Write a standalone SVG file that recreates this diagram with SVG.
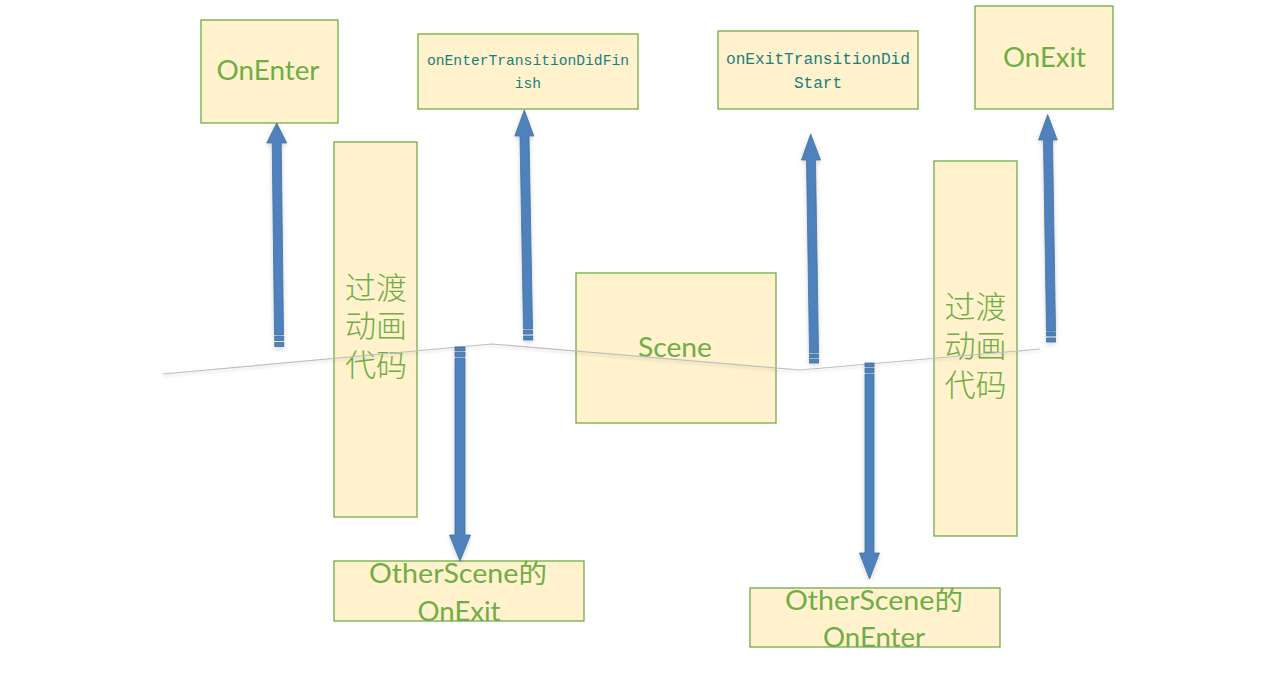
<svg xmlns="http://www.w3.org/2000/svg" width="1280" height="689" viewBox="0 0 1280 689">
<style>
.box{fill:#FFF2CC;stroke:#70AD47;stroke-width:1.3}
.lbl{font-family:Lato,"Noto Sans","Noto Sans CJK SC",sans-serif;font-size:26px;fill:#70AD47;text-anchor:middle}
.cjk{font-family:"Noto Sans CJK SC",sans-serif;font-size:31px;fill:#70AD47;text-anchor:middle;font-weight:300}
.mono{font-family:"Liberation Mono","DejaVu Sans Mono",monospace;fill:#17807E;text-anchor:middle}
.arr{fill:#4F81BD;stroke:#41719C;stroke-width:0.8;filter:url(#glow)}
.ln{fill:none;stroke:#BFBFBF;stroke-width:1.2;filter:url(#lglow)}
</style>
<defs>
<filter id="glow" x="-50%" y="-10%" width="200%" height="120%">
<feGaussianBlur in="SourceAlpha" stdDeviation="2.5"/>
<feOffset dx="0" dy="1.5"/>
<feComponentTransfer><feFuncA type="linear" slope="0.18"/></feComponentTransfer>
<feMerge><feMergeNode/><feMergeNode in="SourceGraphic"/></feMerge>
</filter>
<filter id="lglow" x="-5%" y="-50%" width="110%" height="200%">
<feGaussianBlur in="SourceAlpha" stdDeviation="1.5"/>
<feOffset dx="0" dy="2"/>
<feComponentTransfer><feFuncA type="linear" slope="0.15"/></feComponentTransfer>
<feMerge><feMergeNode/><feMergeNode in="SourceGraphic"/></feMerge>
</filter>
</defs>
<rect width="1280" height="689" fill="#FFFFFF"/>

<g id="node-onenter">
<rect class="box" x="201" y="20" width="137" height="103"/>
<text class="lbl" x="268" y="80" textLength="103" lengthAdjust="spacingAndGlyphs">OnEnter</text>
</g>
<g id="node-onenter-finish">
<rect class="box" x="418" y="34" width="220" height="75"/>
<text class="mono" x="528" y="65" font-size="14.6" textLength="202" lengthAdjust="spacingAndGlyphs">onEnterTransitionDidFin</text>
<text class="mono" x="528" y="88" font-size="14.6">ish</text>
</g>
<g id="node-onexit-start">
<rect class="box" x="718" y="31" width="200" height="78"/>
<text class="mono" x="818" y="64" font-size="16" textLength="184" lengthAdjust="spacingAndGlyphs">onExitTransitionDid</text>
<text class="mono" x="818" y="88" font-size="16">Start</text>
</g>
<g id="node-onexit">
<rect class="box" x="975" y="6" width="138" height="103"/>
<text class="lbl" x="1044.5" y="66.5" textLength="83" lengthAdjust="spacingAndGlyphs">OnExit</text>
</g>
<g id="node-transition-1">
<rect class="box" x="334" y="142" width="83" height="375"/>
<text class="cjk"><tspan x="376" y="299">过渡</tspan><tspan x="376" y="337">动画</tspan><tspan x="376" y="376">代码</tspan></text>
</g>
<g id="node-transition-2">
<rect class="box" x="934" y="161" width="83" height="375"/>
<text class="cjk"><tspan x="975.5" y="318">过渡</tspan><tspan x="975.5" y="357">动画</tspan><tspan x="975.5" y="396">代码</tspan></text>
</g>
<g id="node-scene">
<rect class="box" x="576" y="273" width="200" height="150"/>
<text class="lbl" x="675" y="357" textLength="74" lengthAdjust="spacingAndGlyphs">Scene</text>
</g>
<g id="node-other-onexit">
<rect class="box" x="334" y="561" width="250" height="60"/>
<text class="lbl" x="458" y="582.5" textLength="178" lengthAdjust="spacingAndGlyphs">OtherScene的</text>
<text class="lbl" x="459" y="620.5" textLength="83" lengthAdjust="spacingAndGlyphs">OnExit</text>
</g>
<g id="node-other-onenter">
<rect class="box" x="750" y="588" width="250" height="59"/>
<text class="lbl" x="874" y="609.5" textLength="178" lengthAdjust="spacingAndGlyphs">OtherScene的</text>
<text class="lbl" x="874" y="647" textLength="102" lengthAdjust="spacingAndGlyphs">OnEnter</text>
</g>

<g id="baseline">
<polyline class="ln" points="163,374 492,344 800,370 1040,349"/>
</g>

<g id="connectors">
<g class="arr">
<polygon points="276.7,123 266.7,143 272.2,143 274.5,335 283.5,335 281.2,143 286.7,143"/>
<rect x="274.7" y="336.5" width="9" height="4"/>
<rect x="274.8" y="342.5" width="9" height="4"/>
</g>
<g class="arr">
<polygon points="524.3,110 514.8,136 520,136 523.5,329 532.5,329 529,136 533.8,136"/>
<rect x="523.6" y="330.5" width="9" height="3.5"/>
<rect x="523.7" y="336" width="9" height="4"/>
</g>
<g class="arr">
<rect x="455" y="347" width="10" height="4"/>
<rect x="455" y="352.5" width="10" height="4"/>
<polygon points="455,358 465,358 465,535 470.5,535 460,561 449.5,535 455,535"/>
</g>
<g class="arr">
<polygon points="810.7,134 801.5,160 806.5,160 809.5,353 818.5,353 815.5,160 820.5,160"/>
<rect x="809.5" y="354.5" width="9" height="3.5"/>
<rect x="809.5" y="359.5" width="9" height="3.5"/>
</g>
<g class="arr">
<rect x="865" y="363" width="9" height="4"/>
<rect x="865" y="368.5" width="9" height="4"/>
<polygon points="865,374 874,374 874,553 879.5,553 869.5,579 859.5,553 865,553"/>
</g>
<g class="arr">
<polygon points="1047.7,114.5 1038.5,140 1043.5,140 1046.5,331 1055.5,331 1052.5,140 1057.2,140"/>
<rect x="1046.5" y="332" width="9" height="4"/>
<rect x="1046.6" y="338" width="9" height="4"/>
</g>
</g>
</svg>
